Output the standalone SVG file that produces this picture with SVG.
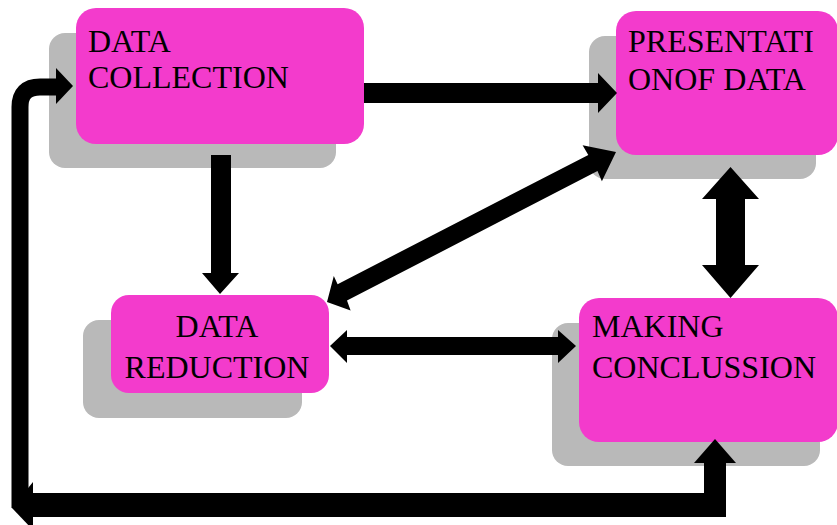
<svg xmlns="http://www.w3.org/2000/svg" width="837" height="525" viewBox="0 0 837 525">
<style>
.sh{fill:#b9b9b9}
.bx{fill:#f33bcc}
.t{font-family:"Liberation Serif","Times New Roman",serif;font-size:32px;fill:#000}
.c{text-anchor:middle}
.a{fill:#000;stroke:none}
.ln{fill:none;stroke:#000}
</style>
<rect width="837" height="525" fill="#fff"/>
<g id="node-collection">
<rect class="sh" x="49" y="33" width="287" height="135" rx="16"/>
<rect class="bx" x="76" y="8" width="288" height="136" rx="20"/>
<text class="t" x="88" y="52">DATA</text>
<text class="t" x="88" y="88">COLLECTION</text>
</g>
<g id="node-presentation">
<rect class="sh" x="589" y="36" width="227" height="143" rx="16"/>
<rect class="bx" x="616" y="11" width="222" height="144" rx="20"/>
<text class="t" x="628" y="52">PRESENTATI</text>
<text class="t" x="628" y="90">ONOF DATA</text>
</g>
<g id="node-reduction">
<rect class="sh" x="83" y="320" width="219" height="98" rx="16"/>
<rect class="bx" x="111" y="295" width="218" height="98" rx="18"/>
<text class="t c" x="217" y="337">DATA</text>
<text class="t c" x="217" y="378">REDUCTION</text>
</g>
<g id="node-conclusion">
<rect class="sh" x="552" y="323" width="268" height="143" rx="16"/>
<rect class="bx" x="579" y="298" width="259" height="144" rx="20"/>
<text class="t" x="592" y="337">MAKING</text>
<text class="t" x="592" y="378">CONCLUSSION</text>
</g>
<g id="connectors">
<polygon class="a" points="364,83 598,83 598,73 617,93 598,113 598,103 364,103"/>
<polygon class="a" points="211,155 231,155 231,273 239,273 220,294 202,273 211,273"/>
<polygon class="a" points="327,302 350.6,310.4 347,300.6 597.5,171.1 601.9,181.3 616,152 582.6,145.3 588.3,154.9 337.6,284.2 333.8,276.0"/>
<polygon class="a" points="330,346 347,330 347,337 558,337 558,330 576,346 558,363 558,355 347,355 347,363"/>
<polygon class="a" points="730.5,167 759,199 745,199 745,265 759,265 730.5,298 702,265 716,265 716,199 702,199"/>
<polygon class="a" points="715,439 736,463 726,463 726,517 33,517 33,493 704,493 704,463 694,463"/>
<polygon class="a" points="12,508 33,482 33,530"/>
<path class="ln" d="M20,508 V107 Q20,87 40,87 H57" stroke-width="17"/>
<polygon class="a" points="56,68 73,86 56,104"/>
</g>
</svg>
